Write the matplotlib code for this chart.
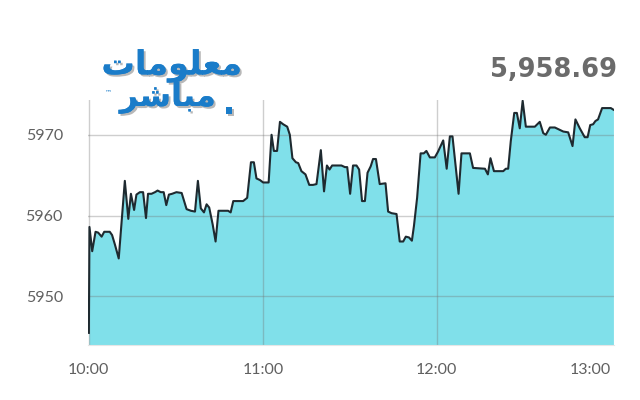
import matplotlib
matplotlib.use("Agg")
import matplotlib.pyplot as plt
import matplotlib.patheffects as pe
from matplotlib.ticker import FixedLocator

# minutes after 10:00 and index values
minutes = [0, 0.2, 1.15, 2.3, 3.2, 4.4, 5.3, 7.2, 8.0, 9.0, 10.3, 11.3, 12.4, 13.6, 14.5,
           15.6, 16.4, 17.6, 18.7, 19.7, 20.4, 21.6, 22.8, 23.7, 24.8, 25.8, 26.7, 27.6,
           28.7, 30.2, 32.0, 33.7, 35.2, 36.6, 37.6, 38.6, 39.7, 40.6, 41.5, 42.7, 43.7,
           44.7, 48.0, 48.9, 49.8, 53.2, 54.6, 55.9, 56.9, 57.8, 59.0, 60.1, 62.0, 63.0,
           63.8, 64.9, 65.9, 67.0, 68.4, 69.3, 70.2, 71.4, 72.2, 73.3, 74.7, 76.0, 77.3,
           78.5, 80.0, 81.1, 82.1, 83.0, 83.9, 87.1, 88.3, 89.1, 90.1, 91.1, 92.3, 93.2,
           94.2, 95.2, 96.1, 97.2, 98.0, 99.0, 100.3, 102.3, 103.2, 104.4, 106.1, 107.2,
           108.4, 109.3, 110.4, 111.4, 112.1, 113.2, 114.4, 115.5, 116.4, 117.6, 119.3,
           120.4, 122.2, 123.4, 124.5, 125.4, 127.5, 128.5, 131.4, 132.5, 136.6, 137.6,
           138.5, 139.7, 142.9, 143.8, 144.6, 145.5, 146.7, 147.6, 148.6, 149.6, 150.7,
           153.8, 155.5, 156.7, 157.6, 159.0, 160.7, 162.4, 163.6, 165.3, 166.8, 167.8,
           169.3, 171.0, 172.0, 172.9, 173.9, 174.7, 175.6, 177.0, 180.0, 180.9]
values = [5945.5, 5958.6, 5955.6, 5958.0, 5957.9, 5957.4, 5958.0, 5958.0, 5957.6, 5956.4,
          5954.7, 5959.3, 5964.3, 5959.6, 5962.7, 5960.7, 5962.6, 5962.9, 5962.9, 5959.7,
          5962.7, 5962.7, 5962.9, 5963.1, 5962.9, 5962.9, 5961.3, 5962.6, 5962.7, 5962.9,
          5962.8, 5960.8, 5960.6, 5960.5, 5964.3, 5960.9, 5960.4, 5961.4, 5961.0, 5958.9,
          5956.8, 5960.6, 5960.6, 5960.4, 5961.8, 5961.8, 5962.2, 5966.6, 5966.6, 5964.6,
          5964.4, 5964.1, 5964.1, 5970.0, 5968.0, 5968.0, 5971.6, 5971.3, 5971.0, 5970.0,
          5967.1, 5966.6, 5966.5, 5965.5, 5965.1, 5963.8, 5963.8, 5963.9, 5968.1, 5963.0,
          5966.2, 5965.7, 5966.2, 5966.2, 5966.0, 5966.0, 5962.7, 5966.2, 5966.2, 5965.7,
          5961.8, 5961.8, 5965.3, 5966.1, 5967.0, 5967.0, 5963.9, 5964.0, 5960.5, 5960.3,
          5960.2, 5956.8, 5956.8, 5957.4, 5957.3, 5956.9, 5958.7, 5962.2, 5967.7, 5967.7,
          5968.0, 5967.2, 5967.2, 5967.9, 5969.3, 5965.8, 5969.8, 5969.8, 5962.7, 5967.7,
          5967.7, 5965.9, 5965.8, 5965.1, 5967.1, 5965.5, 5965.5, 5965.8, 5965.8, 5969.2,
          5972.7, 5972.7, 5970.8, 5974.2, 5971.0, 5971.0, 5971.6, 5970.2, 5970.0, 5970.9,
          5970.9, 5970.6, 5970.4, 5970.3, 5968.6, 5971.9, 5970.8, 5969.7, 5969.7, 5971.2,
          5971.3, 5971.7, 5971.9, 5973.3, 5973.3, 5973.1]

x_ticks = [0, 60, 120, 180]
x_labels = ["10:00", "11:00", "12:00", "13:00"]
y_ticks = [5950, 5960, 5970]
title_value = "5,958.69"

fig = plt.figure(figsize=(6.4, 4.0), dpi=100)
ax = fig.add_axes([88 / 640, 55 / 400, 526 / 640, 245 / 400])

y_min = 5944.0
ax.fill_between(minutes, values, y_min, color="#80e0ea", lw=0, zorder=1)
ax.plot(minutes, values, color="#1e2a30", lw=1.5, zorder=3)

ax.set_xlim(-0.3, 181.1)
ax.set_ylim(y_min, 5974.3)

for t in x_ticks[:3]:
    ax.axvline(t, color=(0.45, 0.45, 0.45), alpha=0.35, lw=1, zorder=2)
for v in y_ticks:
    ax.axhline(v, color=(0.45, 0.45, 0.45), alpha=0.35, lw=1, zorder=2)

ax.xaxis.set_major_locator(FixedLocator(x_ticks))
ax.set_xticklabels(x_labels)
ax.yaxis.set_major_locator(FixedLocator(y_ticks))
ax.set_yticklabels([str(v) for v in y_ticks])
ax.tick_params(length=0, labelsize=11.5, labelcolor="#606060")
ax.tick_params(axis="x", pad=13)
ax.tick_params(axis="y", pad=18)
for lab in ax.get_xticklabels() + ax.get_yticklabels():
    lab.set_fontfamily("Lato")
ax.get_xticklabels()[-1].set_horizontalalignment("right")
for s in ["top", "right", "left"]:
    ax.spines[s].set_visible(False)
ax.spines["bottom"].set_color("#e6e6e6")

fig.text(617 / 640, 1 - 70 / 400, title_value, ha="right", va="center",
         fontsize=18.5, fontweight="bold", color="#6b6b6b", family="DejaVu Sans")

# logo (Arabic text in shaped presentation forms, visual order)
shadow = [pe.withSimplePatchShadow(offset=(1.5, -1.5), shadow_rgbFace="#9a9a9a", alpha=0.7), pe.Normal()]
fig.text(172 / 640, 1 - 66 / 400, "\uFE95\uFE8E\uFEE3\uFEEE\uFEE0\uFECC\uFEE3",
         ha="center", va="center", fontsize=24, fontweight="bold", color="#1a7cc9",
         family="DejaVu Sans", path_effects=shadow)
fig.text(168 / 640, 1 - 98 / 400, "\uFEAE\uFEB7\uFE8E\uFE92\uFEE3",
         ha="center", va="center", fontsize=23, fontweight="bold", color="#1a7cc9",
         family="DejaVu Sans", path_effects=shadow)
fig.text(229 / 640, 1 - 104 / 400, ".", ha="center", va="center", fontsize=24,
         fontweight="bold", color="#1a7cc9", family="DejaVu Sans", path_effects=shadow)
fig.text(108 / 640, 1 - 92 / 400, "\u2122", ha="center", va="center", fontsize=5,
         color="#1a7cc9", family="DejaVu Sans")

fig.savefig("out.png", dpi=100)
